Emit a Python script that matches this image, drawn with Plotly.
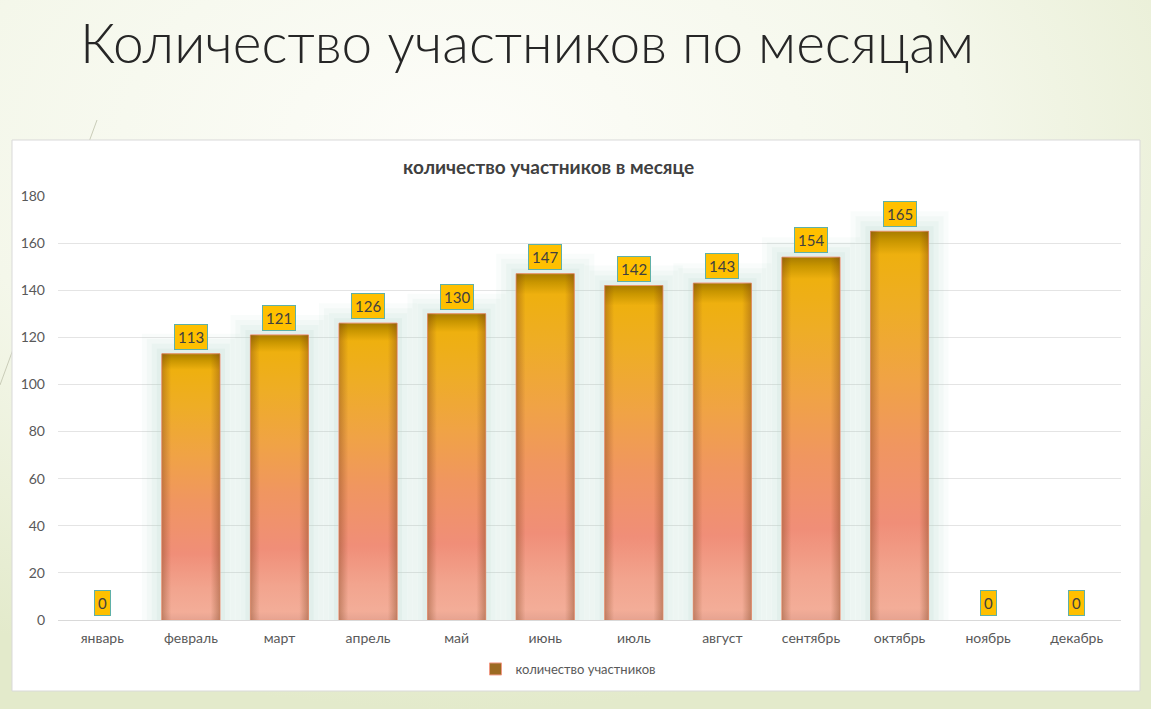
import base64
import plotly.graph_objects as go

months = ['январь', 'февраль', 'март', 'апрель', 'май', 'июнь',
          'июль', 'август', 'сентябрь', 'октябрь', 'ноябрь', 'декабрь']
participants = [0, 113, 121, 126, 130, 147, 142, 143, 154, 165, 0, 0]
y_ticks = [0, 20, 40, 60, 80, 100, 120, 140, 160, 180]

series_name = 'количество участников'
slide_title = 'Количество участников по месяцам'
chart_title = 'количество участников в месяце'

W, H = 1151, 709
L, R, T, B = 58, 30, 196, 89
PW, PH = W - L - R, H - T - B
BAR_W = 0.655
FONT = 'Lato'

# pixel -> paper helpers for slide decoration
def px(x):
    return (x - L) / PW

def py(y):
    return (H - B - y) / PH

idx = list(range(len(months)))
shown = [v if v else None for v in participants]

fig = go.Figure()

# soft glow round the bars
for lw, a in [(40, 0.07), (30, 0.09), (20, 0.11), (10, 0.14)]:
    fig.add_trace(go.Bar(
        x=idx, y=shown, width=BAR_W,
        marker=dict(color='rgba(0,0,0,0)', line=dict(color='rgba(175,215,200,%s)' % a, width=lw)),
        showlegend=False, hoverinfo='skip'))

# base bar (legend entry)
fig.add_trace(go.Bar(
    x=idx, y=shown, width=BAR_W, name=series_name,
    marker=dict(color='#9c6a22', line=dict(color='#f09a84', width=1)),
    hovertemplate='%{y}<extra></extra>'))

vert_scale = [[0, '#e6a391'], [0.03, '#f3ad98'], [0.12, '#f2a48e'], [0.25, '#f08e78'],
              [0.45, '#f09660'], [0.62, '#f0a345'], [0.8, '#eead26'], [0.94, '#eeb00f'],
              [0.975, '#c99600'], [1, '#a87c00']]
side_scale = [[0, 'rgba(120,60,20,0.38)'], [0.16, 'rgba(120,60,20,0.0)'],
              [0.84, 'rgba(120,60,20,0.0)'], [1, 'rgba(120,60,20,0.38)']]

for i, v in zip(idx, participants):
    if not v:
        continue
    xs = [i - BAR_W / 2, i - BAR_W / 2, i + BAR_W / 2, i + BAR_W / 2, i - BAR_W / 2]
    ys = [0, v, v, 0, 0]
    fig.add_trace(go.Scatter(x=xs, y=ys, mode='lines', fill='toself',
                             line=dict(color='rgba(240,160,130,0.7)', width=1),
                             fillgradient=dict(type='vertical', colorscale=vert_scale),
                             showlegend=False, hoverinfo='skip'))
    fig.add_trace(go.Scatter(x=xs, y=ys, mode='lines', fill='toself',
                             line=dict(width=0),
                             fillgradient=dict(type='horizontal', colorscale=side_scale),
                             showlegend=False, hoverinfo='skip'))

# value labels
for i, v in zip(idx, participants):
    fig.add_annotation(x=i, y=v, text=str(v), showarrow=False, yanchor='bottom', yshift=4,
                       bgcolor='#ffc000', bordercolor='#5fb0a8', borderwidth=1, borderpad=3,
                       font=dict(family=FONT, size=15, color='#404040'))

fig.add_annotation(x=px(548), y=py(166), xref='paper', yref='paper', text='<b>%s</b>' % chart_title,
                   showarrow=False, xanchor='center', yanchor='middle',
                   font=dict(family=FONT, size=19, color='#404040'))

svg = ('<svg xmlns="http://www.w3.org/2000/svg" width="%d" height="%d">'
       '<defs><radialGradient id="g" cx="0.4" cy="0.2" r="0.8">'
       '<stop offset="0" stop-color="#fdfdf9"/><stop offset="0.55" stop-color="#f4f7ea"/>'
       '<stop offset="1" stop-color="#e3eacb"/></radialGradient></defs>'
       '<rect width="100%%" height="100%%" fill="url(#g)"/></svg>') % (W, H)
bg = 'data:image/svg+xml;base64,' + base64.b64encode(svg.encode()).decode()

fig.update_layout(
    width=W, height=H,
    margin=dict(l=L, r=R, t=T, b=B),
    paper_bgcolor='#f3f6ea', plot_bgcolor='rgba(0,0,0,0)',
    barmode='overlay',
    font=dict(family=FONT, color='#595959'),
    title=dict(text=slide_title, x=80 / W, xanchor='left', y=1 - 44 / H, yanchor='middle',
               yref='container', font=dict(family=FONT, size=55, color='#262626', weight=300)),
    images=[dict(source=bg, xref='paper', yref='paper', x=px(0), y=py(0), sizex=W / PW, sizey=H / PH,
                 xanchor='left', yanchor='top', sizing='stretch', layer='below')],
    shapes=[
        dict(type='line', xref='paper', yref='paper', x0=px(97), y0=py(120), x1=px(0), y1=py(385),
             line=dict(color='#c9ccb8', width=1), layer='below'),
        dict(type='rect', xref='paper', yref='paper', x0=px(12), y0=py(691), x1=px(1140), y1=py(140),
             fillcolor='white', line=dict(color='#d9d9d9', width=1), layer='below'),
    ],
    xaxis=dict(range=[-0.5, len(months) - 0.5], tickvals=idx, ticktext=months, showgrid=False,
               zeroline=False, showline=False, ticks='', ticklabelstandoff=8,
               tickfont=dict(size=14, color='#595959')),
    yaxis=dict(range=[0, 180], tickvals=y_ticks, showgrid=True, gridcolor='#e4e4e4', gridwidth=1,
               zeroline=True, zerolinecolor='#d9d9d9', zerolinewidth=1, showline=False, ticks='',
               ticklabelstandoff=12, tickfont=dict(size=14, color='#595959')),
    showlegend=True,
    legend=dict(x=px(568), xanchor='center', y=py(669), yanchor='middle', orientation='h',
                itemwidth=30, bgcolor='rgba(0,0,0,0)', font=dict(size=13, color='#595959')),
    hovermode='closest',
)

fig.write_html('out.html', config={'displayModeBar': False},
               post_script="document.body.style.margin='0';")
